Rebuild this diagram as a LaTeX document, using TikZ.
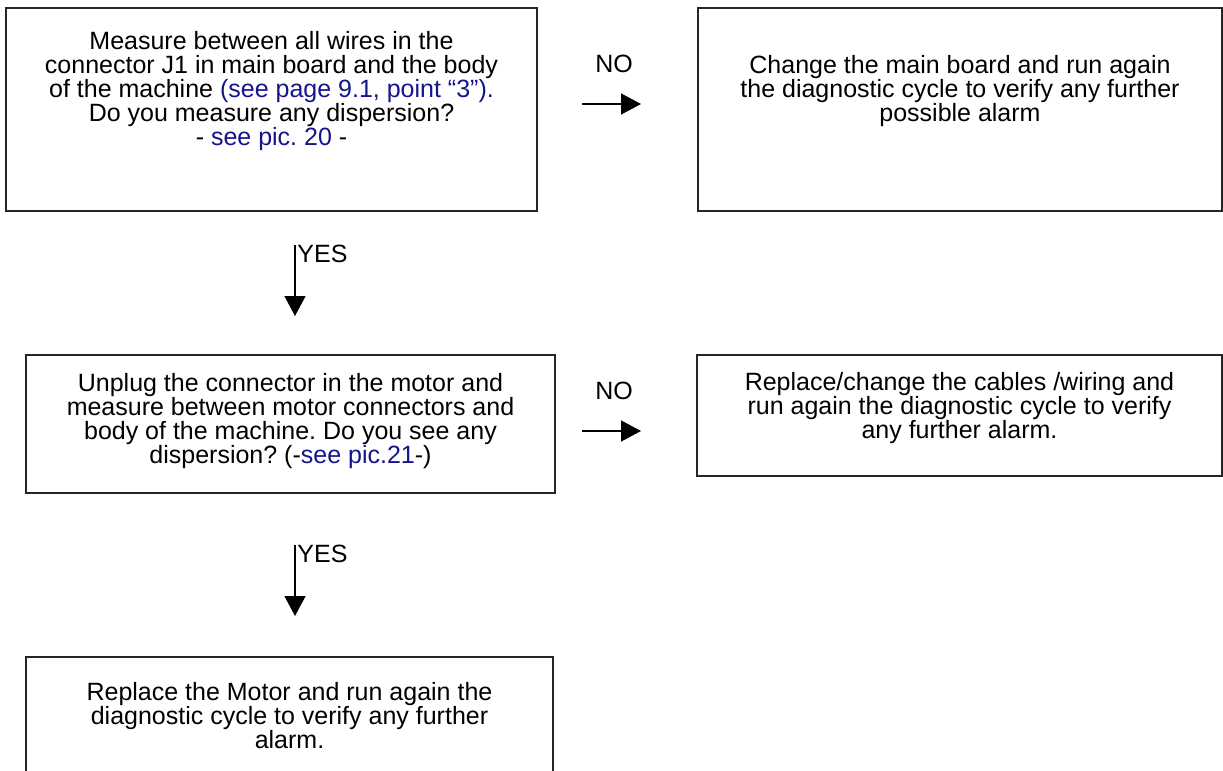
\documentclass[tikz,border=0pt]{standalone}
\usepackage{fontspec}
\setmainfont{Liberation Sans}
\usetikzlibrary{arrows.meta}
\definecolor{linkblue}{RGB}{20,20,140}
\newcommand{\lnk}[1]{\textcolor{linkblue}{#1}}
\frenchspacing

\begin{document}
\begin{tikzpicture}[x=0.5pt, y=-0.5pt,
    box/.style={line width=0.9pt, draw=black!85},
    txt/.style={anchor=north, align=center, inner sep=0pt, font=\fontsize{12.5}{12}\selectfont},
    lbl/.style={inner sep=0pt, font=\fontsize{12.5}{12}\selectfont},
    flow/.style={-{Triangle[length=10pt, width=10.5pt]}, line width=0.75pt}]
  \clip (0,0) rectangle (1223,771);
  % first row
  \draw[box] (6,8) rectangle (537,211);
  \node[txt] (measure) at (271.5,31) {Measure between all wires in the\\
    connector J1 in main board and the body\\
    of the machine \lnk{(see page 9.1, point “3”).}\\
    Do you measure any dispersion?\\
    - \lnk{see pic. 20} -};
  \draw[box] (698,8) rectangle (1222,211);
  \node[txt] (board) at (960,55) {Change the main board and run again\\
    the diagnostic cycle to verify any further\\
    possible alarm};
  \node[lbl] (no1) at (614,64) {NO};
  \coordinate (no1a) at (582,104);
  \coordinate (no1b) at (641,104);
  \draw[flow] (no1a) -- (no1b);
  \coordinate (yes1a) at (295,245);
  \coordinate (yes1b) at (295,316);
  \draw[flow] (yes1a) -- (yes1b);
  \node[lbl, anchor=west] (yes1) at (297,254) {YES};
  % second row
  \draw[box] (26,355) rectangle (555,493);
  \node[txt] (unplug) at (290.5,373) {Unplug the connector in the motor and\\
    measure between motor connectors and\\
    body of the machine. Do you see any\\
    dispersion? (-\lnk{see pic.21}-)};
  \draw[box] (697,355) rectangle (1222,476);
  \node[txt] (cables) at (959.5,372) {Replace/change the cables /wiring and\\
    run again the diagnostic cycle to verify\\
    any further alarm.};
  \node[lbl] (no2) at (614,391) {NO};
  \coordinate (no2a) at (582,431);
  \coordinate (no2b) at (641,431);
  \draw[flow] (no2a) -- (no2b);
  \coordinate (yes2a) at (295,545);
  \coordinate (yes2b) at (295,616);
  \draw[flow] (yes2a) -- (yes2b);
  \node[lbl, anchor=west] (yes2) at (297,554) {YES};
  % last box, cut by the page
  \draw[box] (26,657) rectangle (553,800);
  \node[txt] (motor) at (289.5,682) {Replace the Motor and run again the\\
    diagnostic cycle to verify any further\\
    alarm.};
\end{tikzpicture}
\end{document}
